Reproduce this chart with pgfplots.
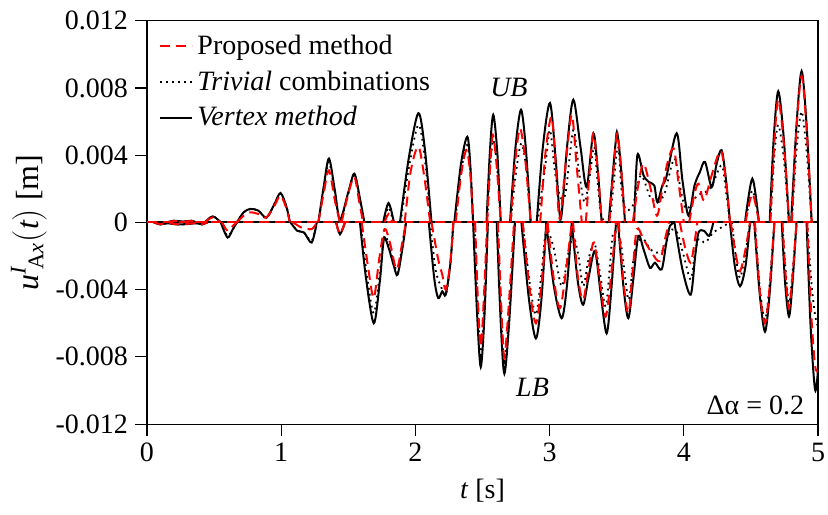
\documentclass[border=0pt]{standalone}
\usepackage{fontspec}
\setmainfont{Liberation Serif}
\usepackage{amsmath}
\usepackage{pgfplots}
\usepackage{pgfplotstable}
\pgfplotsset{compat=1.18}

% Upper (UB) and lower (LB) bounds of the displacement, one table per method.
% Rows "nan nan" separate the humps; the zero line is drawn on its own.
\pgfplotstableread{
t u
0.15 0
0.2 0.0001
0.27 0.00005
0.33 0.0001
0.37 0
nan nan
0.43 0
0.49 0.00036
0.55 0
nan nan
0.67 0
0.72 0.0006
0.77 0.0008
0.83 0.0007
0.89 0.00028
0.95 0.0011
0.995 0.00175
1.04 0.0009
1.065 0
nan nan
1.277 0
1.318 0.0022
1.356 0.0038
1.40 0.0019
1.438 0.00016
1.50 0.0018
1.545 0.0029
1.585 0.0015
1.62 0
nan nan
1.76 0
1.80 0.00115
1.84 0
nan nan
1.885 0
1.95 0.0038
2.022 0.0065
2.07 0.0044
2.12 0
nan nan
2.29 0
2.34 0.0035
2.387 0.0051
2.41 0.0033
2.43 0
nan nan
2.53 0
2.555 0.0042
2.58 0.0064
2.61 0.0042
2.636 0
nan nan
2.705 0
2.745 0.0044
2.787 0.0067
2.823 0.0044
2.859 0
nan nan
2.904 0
2.95 0.0045
3.003 0.0071
3.045 0.0038
3.083 0.0002
3.13 0.0045
3.177 0.0073
3.23 0.0045
3.276 0.0021
3.326 0.0053
3.36 0.003
3.388 0
nan nan
3.44 0
3.49 0.0046
3.505 0.0053
3.535 0.003
3.562 0
nan nan
3.63 0
3.654 0.004
3.70 0.0028
3.74 0.0024
3.78 0.0022
3.803 0.0012
3.84 0.0022
3.87 0.0027
3.947 0.0053
3.99 0.0025
4.035 0.0004
4.08 0.0022
4.12 0.003
4.158 0.0036
4.208 0.0021
4.245 0.0035
4.282 0.0043
4.315 0.0025
4.344 0
nan nan
4.456 0
4.511 0.0026
4.56 0
nan nan
4.64 0
4.67 0.005
4.704 0.0078
4.745 0.005
4.784 0
nan nan
4.80 0
4.84 0.0058
4.878 0.009
4.915 0.0058
4.953 0
}\vertexUB

\pgfplotstableread{
t u
0.05 0
0.1 -0.00012
0.15 -0.00005
0.22 -0.00012
0.3 -0.0001
0.37 -0.00005
0.41 -0.00012
0.45 0
nan nan
0.55 0
0.6 -0.0009
0.64 -0.0004
0.67 0
nan nan
1.07 0
1.12 -0.0005
1.17 -0.0006
1.227 -0.0012
1.265 0
nan nan
1.41 0
1.438 -0.0007
1.475 0
nan nan
1.587 0
1.63 -0.0032
1.69 -0.006
1.735 -0.0035
1.765 -0.001
1.80 -0.0015
1.84 -0.0026
1.868 -0.0031
1.91 -0.0012
1.93 0
nan nan
2.10 0
2.14 -0.0033
2.17 -0.0045
2.20 -0.0041
2.226 -0.0043
2.26 -0.0025
2.283 0
nan nan
2.43 0
2.46 -0.0055
2.487 -0.0086
2.515 -0.0055
2.54 0
nan nan
2.606 0
2.635 -0.0058
2.663 -0.009
2.70 -0.0058
2.742 0
nan nan
2.79 0
2.845 -0.0045
2.898 -0.0069
2.94 -0.0045
2.975 0
nan nan
2.975 0
3.03 -0.0037
3.09 -0.0057
3.13 -0.0037
3.165 0
nan nan
3.165 0
3.21 -0.0035
3.25 -0.0049
3.29 -0.0033
3.338 -0.0017
3.38 -0.0042
3.425 -0.0066
3.46 -0.004
3.495 0
nan nan
3.51 0
3.55 -0.0038
3.587 -0.0057
3.625 -0.0033
3.661 -0.0008
3.70 -0.0016
3.748 -0.0027
3.785 -0.0024
3.835 -0.0028
3.87 -0.0012
3.897 -0.0002
3.93 0
nan nan
3.93 0
3.99 -0.0028
4.051 -0.0043
4.085 -0.002
4.11 -0.0006
4.15 -0.0005
4.19 -0.0008
4.22 0
nan nan
4.344 0
4.38 -0.0026
4.419 -0.0038
4.46 -0.0026
4.494 0
nan nan
4.525 0
4.565 -0.0042
4.605 -0.0065
4.64 -0.0042
4.675 0
nan nan
4.73 0
4.755 -0.0036
4.784 -0.0056
4.81 -0.0036
4.84 0
nan nan
4.915 0
4.945 -0.0062
4.978 -0.00996
5.0 -0.0088
}\vertexLB

\pgfplotstableread{
t u
0.15 0
0.2 0.0001
0.27 0.00005
0.33 0.0001
0.37 0
nan nan
0.43 0
0.49 0.00036
0.55 0
nan nan
0.67 0
0.72 0.0006
0.77 0.0008
0.83 0.0007
0.89 0.00028
0.95 0.0011
0.995 0.00172
1.04 0.0009
1.065 0
nan nan
1.277 0
1.318 0.002
1.356 0.0036
1.40 0.0017
1.438 0.0001
1.50 0.0017
1.545 0.0028
1.585 0.0014
1.615 0
nan nan
1.765 0
1.80 0.0009
1.835 0
nan nan
1.89 0
1.95 0.0032
2.022 0.0058
2.07 0.0038
2.115 0
nan nan
2.295 0
2.34 0.003
2.385 0.0046
2.41 0.003
2.43 0
nan nan
2.535 0
2.557 0.0032
2.58 0.0049
2.61 0.0032
2.636 0
nan nan
2.71 0
2.75 0.003
2.79 0.0047
2.83 0.003
2.859 0
nan nan
2.91 0
2.93 0.0012
2.97 0.0035
3.003 0.0055
3.04 0.003
3.08 0.0015
3.12 0.0018
3.177 0.0055
3.22 0.003
3.26 0.0012
3.30 0.0028
3.333 0.0045
3.36 0.0022
3.39 0.0003
3.45 0.0003
3.507 0.0045
3.535 0.002
3.565 0.0008
3.62 0.001
3.68 0.0028
3.75 0.0015
3.81 0.0012
3.86 0.0018
3.93 0.0038
3.98 0.0018
4.02 0.0008
4.10 0.0016
4.16 0.0018
4.21 0.0022
4.282 0.0034
4.315 0.0018
4.344 0
nan nan
4.46 0
4.511 0.0019
4.56 0
nan nan
4.645 0
4.675 0.004
4.704 0.0058
4.745 0.0038
4.784 0
nan nan
4.805 0
4.84 0.0043
4.878 0.0066
4.915 0.0042
4.953 0
}\trivialUB

\pgfplotstableread{
t u
0.05 0
0.1 -0.00012
0.15 -0.00005
0.22 -0.00012
0.3 -0.0001
0.37 -0.00005
0.41 -0.00012
0.45 0
nan nan
0.55 0
0.6 -0.0008
0.64 -0.0004
0.67 0
nan nan
1.07 0
1.12 -0.0005
1.17 -0.0006
1.227 -0.0011
1.265 0
nan nan
1.41 0
1.438 -0.0007
1.475 0
nan nan
1.59 0
1.64 -0.0032
1.69 -0.0054
1.735 -0.003
1.77 -0.0008
1.82 -0.0018
1.868 -0.003
1.90 -0.0014
1.93 0
nan nan
2.11 0
2.15 -0.0028
2.19 -0.0038
2.226 -0.0043
2.26 -0.0025
2.283 0
nan nan
2.44 0
2.465 -0.005
2.487 -0.0079
2.512 -0.005
2.54 0
nan nan
2.61 0
2.637 -0.0053
2.663 -0.0083
2.70 -0.0052
2.74 0
nan nan
2.80 0
2.85 -0.0035
2.898 -0.0055
2.94 -0.003
2.975 -0.0005
3.03 -0.0015
3.09 -0.0038
3.14 -0.0018
3.177 -0.0008
3.215 -0.002
3.25 -0.0038
3.29 -0.0022
3.333 -0.0012
3.375 -0.003
3.418 -0.005
3.45 -0.0025
3.475 -0.0006
3.53 -0.0012
3.587 -0.0046
3.62 -0.0025
3.65 -0.0012
3.70 -0.001
3.75 -0.0016
3.80 -0.0018
3.85 -0.0016
3.90 -0.0005
3.95 -0.0006
4.0 -0.002
4.051 -0.0034
4.08 -0.002
4.11 -0.001
4.16 -0.0012
4.22 -0.0006
4.28 -0.0003
4.344 0
nan nan
4.36 0
4.39 -0.0022
4.419 -0.0033
4.455 -0.002
4.494 0
nan nan
4.53 0
4.565 -0.0038
4.605 -0.0058
4.64 -0.0036
4.675 0
nan nan
4.735 0
4.76 -0.003
4.784 -0.0048
4.81 -0.003
4.84 0
nan nan
4.92 0
4.95 -0.0035
4.978 -0.0055
5.0 -0.0062
}\trivialLB

\pgfplotstableread{
t u
0.15 0
0.2 0.00008
0.27 0.00004
0.33 0.00008
0.37 0
nan nan
0.43 0
0.49 0.0003
0.55 0
nan nan
0.67 0
0.72 0.0004
0.77 0.0006
0.83 0.0005
0.89 0.0003
0.95 0.001
0.995 0.0016
1.04 0.0008
1.065 0
nan nan
1.277 0
1.318 0.0018
1.356 0.0031
1.40 0.0013
1.438 0
nan nan
1.45 0
1.50 0.0017
1.545 0.0027
1.58 0.0013
1.61 0
nan nan
1.77 0
1.80 0.0005
1.83 0
nan nan
1.92 0
1.96 0.0028
2.0 0.0042
2.03 0.0044
2.07 0.0025
2.11 0
nan nan
2.30 0
2.34 0.0028
2.38 0.0043
2.41 0.0028
2.43 0
nan nan
2.535 0
2.557 0.0034
2.578 0.0052
2.605 0.0034
2.636 0
nan nan
2.71 0
2.745 0.0037
2.78 0.0056
2.82 0.0036
2.859 0
nan nan
2.93 0
2.97 0.0042
3.015 0.0063
3.045 0.0035
3.075 0.0002
3.12 0.0035
3.165 0.0064
3.20 0.0035
3.24 0
nan nan
3.27 0
3.30 0.0032
3.326 0.0053
3.36 0.003
3.388 0
nan nan
3.445 0
3.48 0.0035
3.505 0.0053
3.535 0.003
3.56 0
nan nan
3.62 0
3.66 0.0022
3.70 0.0035
3.75 0.0021
3.80 0.0004
3.84 0.002
3.88 0.0036
3.925 0.0044
3.96 0.0024
4.0 0
nan nan
4.04 0
4.08 0.0017
4.11 0.0023
4.15 0.0013
4.20 0.0026
4.25 0.0039
4.282 0.0042
4.315 0.0024
4.344 0
nan nan
4.46 0
4.511 0.0017
4.56 0
nan nan
4.645 0
4.675 0.0048
4.704 0.0073
4.745 0.0047
4.784 0
nan nan
4.805 0
4.84 0.0056
4.878 0.0087
4.915 0.0056
4.953 0
}\proposedUB

\pgfplotstableread{
t u
0.05 0
0.1 -0.0001
0.15 -0.00004
0.22 -0.0001
0.3 -0.00008
0.37 -0.00004
0.41 -0.0001
0.45 0
nan nan
0.56 0
0.6 -0.0005
0.64 -0.0002
0.67 0
nan nan
1.09 0
1.15 -0.0003
1.227 -0.0004
1.265 0
nan nan
1.41 0
1.438 -0.0007
1.475 0
nan nan
1.60 0
1.65 -0.0028
1.69 -0.0045
1.73 -0.0022
1.77 -0.0004
1.81 -0.0012
1.86 -0.0028
1.90 -0.0013
1.93 0
nan nan
2.12 0
2.17 -0.0022
2.20 -0.0031
2.226 -0.004
2.26 -0.0024
2.283 0
nan nan
2.445 0
2.465 -0.0045
2.487 -0.0074
2.51 -0.0045
2.535 0
nan nan
2.615 0
2.64 -0.005
2.663 -0.008
2.695 -0.005
2.735 0
nan nan
2.80 0
2.85 -0.0039
2.898 -0.006
2.94 -0.0036
2.98 0
nan nan
2.985 0
3.03 -0.0033
3.077 -0.0051
3.12 -0.003
3.165 0
nan nan
3.175 0
3.21 -0.0032
3.25 -0.0046
3.29 -0.0028
3.33 -0.0012
3.375 -0.0035
3.418 -0.0056
3.46 -0.003
3.495 0
nan nan
3.515 0
3.55 -0.0035
3.587 -0.0054
3.62 -0.0028
3.65 -0.0004
3.70 -0.001
3.76 -0.0018
3.82 -0.0023
3.86 -0.001
3.89 0
nan nan
3.97 0
4.01 -0.0015
4.05 -0.0024
4.08 -0.0012
4.10 0
nan nan
4.35 0
4.39 -0.002
4.419 -0.0029
4.455 -0.0018
4.494 0
nan nan
4.53 0
4.565 -0.004
4.605 -0.006
4.64 -0.0038
4.675 0
nan nan
4.735 0
4.76 -0.0033
4.784 -0.0051
4.81 -0.0032
4.84 0
nan nan
4.92 0
4.95 -0.0055
4.978 -0.0085
5.0 -0.0089
}\proposedLB

\tikzset{
  vertex/.style={black, line width=1pt, solid},
  trivial/.style={black, line width=0.9pt, dash pattern=on 0.9pt off 2.1pt},
  proposed/.style={red, line width=1pt, dash pattern=on 5pt off 3pt},
}

\begin{document}
\begin{tikzpicture}
\begin{axis}[
  name=main,
  scale only axis,
  width=335.5pt, height=201.7pt,
  xmin=0, xmax=5, ymin=-0.012, ymax=0.012,
  xtick={0,1,2,3,4,5},
  xticklabels={0,1,2,3,4,5},
  ytick={-0.012,-0.008,-0.004,0,0.004,0.008,0.012},
  yticklabels={-0.012,-0.008,-0.004,0,0.004,0.008,0.012},
  scaled y ticks=false,
  tick align=outside,
  xtick pos=bottom, ytick pos=left,
  major tick length=6pt,
  tick style={black, line width=0.6pt},
  axis line style={line width=0.6pt},
  tick label style={font=\fontsize{14}{17}\selectfont},
  label style={font=\fontsize{14}{17}\selectfont},
  xlabel={\textit{t} [s]},
  xlabel style={at={(axis description cs:0.5,-0.165)}, anchor=center},
  ylabel={$\textit{u}^{\textit{I}}{}_{\!\text{A}\textit{x}}(\textit{t})$ [m]},
  ylabel style={at={(axis description cs:-0.176,0.5)}, anchor=center,
    font=\fontsize{16}{19}\selectfont},
  unbounded coords=jump,
  legend style={at={(axis description cs:0.015,0.98)}, anchor=north west,
    draw=none, fill=none, font=\fontsize{14}{17}\selectfont,
    row sep=2.6pt, inner sep=1pt},
  legend cell align=left,
  legend image code/.code={\draw[#1] (0pt,0pt) -- (16pt,0pt);},
]
\addlegendimage{proposed}
\addlegendentry{Proposed method}
\addlegendimage{trivial}
\addlegendentry{\textit{Trivial} combinations}
\addlegendimage{vertex}
\addlegendentry{\textit{Vertex method}}

% zero line shared by the bounds wherever they vanish
\addplot[vertex, forget plot] coordinates {(0,0) (5,0)};

\addplot[vertex, smooth, forget plot] table {\vertexUB};
\addplot[vertex, smooth, forget plot] table {\vertexLB};
\addplot[trivial, smooth, forget plot] table {\trivialUB};
\addplot[trivial, smooth, forget plot] table {\trivialLB};
\addplot[proposed, forget plot] coordinates {(0,0) (5,0)};
\addplot[proposed, smooth, forget plot] table {\proposedUB};
\addplot[proposed, smooth, forget plot] table {\proposedLB};

\node[font=\fontsize{14}{17}\selectfont\itshape] at (axis cs:2.697,0.0080) {UB};
\node[font=\fontsize{14}{17}\selectfont\itshape] at (axis cs:2.873,-0.0098) {LB};
\node[font=\fontsize{14}{17}\selectfont, anchor=east, inner sep=0pt] at (axis cs:4.9,-0.0109) {Δα = 0.2};
\end{axis}
\pgfresetboundingbox
\useasboundingbox ([shift={(-73.5pt,-45pt)}]main.south west) rectangle ([shift={(5pt,10.35pt)}]main.north east);
\end{tikzpicture}
\end{document}
